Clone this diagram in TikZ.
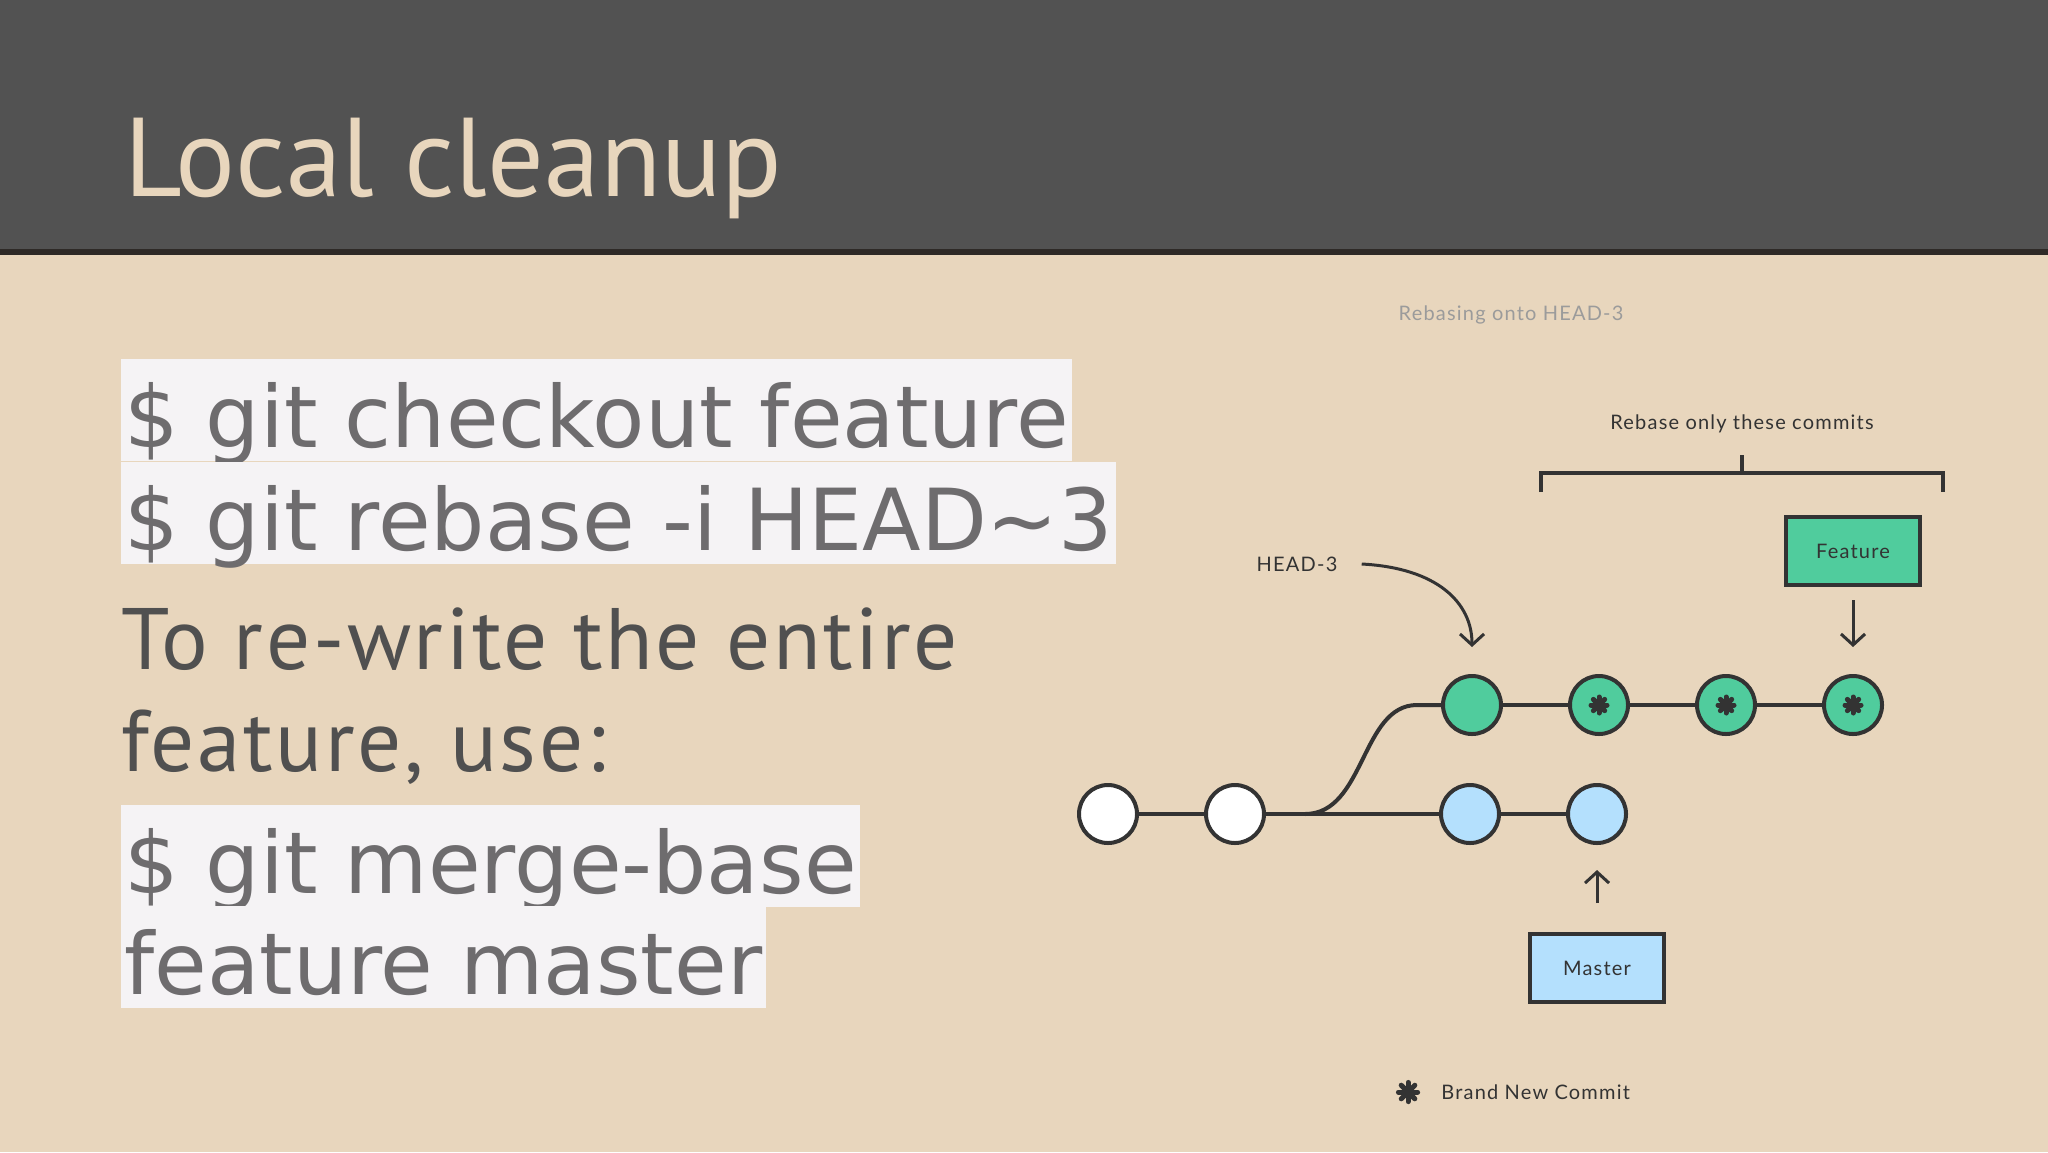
\documentclass[tikz,border=0pt]{standalone}
\usepackage{fontspec}
\setmainfont{PT Sans}
\newfontfamily\notefont[LetterSpace=3]{PT Sans}
\newfontfamily\cmdfont{DejaVu Sans}
\newfontfamily\diagfont[LetterSpace=6]{Lato}
\usetikzlibrary{positioning, arrows.meta}
\usepackage{xcolor}
\definecolor{slidebg}{RGB}{232,214,189}
\definecolor{headgray}{RGB}{82,82,82}
\definecolor{headline}{RGB}{46,42,39}
\definecolor{hilite}{RGB}{245,243,245}
\definecolor{cmdgray}{RGB}{110,108,110}
\definecolor{textgray}{RGB}{80,80,80}
\definecolor{captiongray}{RGB}{155,155,155}
\definecolor{featgreen}{RGB}{80,204,157}
\definecolor{mastblue}{RGB}{180,224,253}
\definecolor{inkdark}{RGB}{51,51,51}
\tikzstyle{cmdline}   = [anchor=base west, fill=hilite, text=cmdgray, inner xsep=1.5pt, inner ysep=0pt, text height=44pt, text depth=7pt, font=\cmdfont\fontsize{42.8}{51}\selectfont]
\tikzstyle{noteline}  = [anchor=base west, inner sep=0pt, text=textgray, font=\notefont\fontsize{43.6}{51}\selectfont]
\tikzstyle{commit}    = [circle, minimum size=29pt, inner sep=0pt, line width=2pt, draw=inkdark]
\tikzstyle{branchbox} = [rectangle, minimum width=67pt, minimum height=34pt, line width=2pt, draw=inkdark, text=inkdark, font=\diagfont\fontsize{10}{12}\selectfont]
\tikzstyle{diaglabel} = [inner sep=0pt, text=inkdark, font=\diagfont\fontsize{10}{12}\selectfont]
\tikzstyle{edge}      = [line width=2pt, draw=inkdark]
\tikzstyle{pointer}   = [line width=1.5pt, draw=inkdark, -{Straight Barb[length=5.5pt, width=12pt, line width=1.5pt]}]
\tikzset{fresh/.pic={\foreach \a in {0,45,90,135} \draw[line width=2.5pt, inkdark, line cap=round] (\a:-4pt) -- (\a:4pt);}}

\begin{document}
\begin{tikzpicture}[x=0.5pt, y=-0.5pt, node distance=63.5pt]
        % slide
        \fill[slidebg] (0,0) rectangle (2048,1152);
        \fill[headgray] (0,0) rectangle (2048,249);
        \fill[headline] (0,249) rectangle (2048,255);
        \node (title) [anchor=base west, inner sep=0pt, text=slidebg, font=\fontsize{56}{60}\selectfont] at (124,196) {Local cleanup};

        % commands and notes
        \node (cmdone)   [cmdline]  at (121,447) {\$ git checkout feature};
        \node (cmdtwo)   [cmdline]  at (121,550) {\$ git rebase -i HEAD\textasciitilde3};
        \node (noteone)  [noteline] at (121,669) {To re-write the entire};
        \node (notetwo)  [noteline] at (121,771) {feature, use:};
        \node (cmdthree) [cmdline]  at (121,893) {\$ git merge-base};
        \node (cmdfour)  [cmdline]  at (121,994) {feature master};

        % commit graph
        \node (c1) [commit, fill=white] at (1108,814) {};
        \node (c2) [commit, fill=white, right of=c1] {};
        \node (m1) [commit, fill=mastblue, right of=c2, xshift=54pt] {};
        \node (m2) [commit, fill=mastblue, right of=m1] {};
        \node (f1) [commit, fill=featgreen, above of=m1, node distance=54.5pt, xshift=1pt] {};
        \node (f2) [commit, fill=featgreen, right of=f1] {};
        \node (f3) [commit, fill=featgreen, right of=f2] {};
        \node (f4) [commit, fill=featgreen, right of=f3] {};
        \foreach \c in {f2,f3,f4} \pic at (\c) {fresh};

        \draw [edge] (c1) -- (c2);
        \draw [edge] (c2) -- (m1);
        \draw [edge] (m1) -- (m2);
        \draw [edge] (f1) -- (f2);
        \draw [edge] (f2) -- (f3);
        \draw [edge] (f3) -- (f4);
        \draw [edge] ([xshift=35pt]c2.center) .. controls +(30pt,0) and +(-28pt,0) .. ([xshift=-12pt]f1.west) -- (f1.west);

        % branch pointers
        \node (feature) [branchbox, fill=featgreen, above of=f4, node distance=77pt] {Feature};
        \node (master)  [branchbox, fill=mastblue, below of=m2, node distance=77pt] {Master};
        \draw [pointer, shorten <=6.5pt, shorten >=13.5pt] (feature.south) -- (f4.north);
        \draw [pointer, shorten <=14.5pt, shorten >=12.5pt] (master.north) -- (m2.south);

        \node (head) [diaglabel] at (1297,564) {HEAD-3};
        \draw [pointer] ([xshift=12pt]head.east) .. controls +(38pt,-2pt) and +(0,22pt) .. ([yshift=13.5pt]f1.north);

        % rebase range
        \node (caption)   [diaglabel, text=captiongray] at (1511,315) {Rebasing onto HEAD-3};
        \node (rebaselbl) [diaglabel] at (1742,424) {Rebase only these commits};
        \draw [edge] (1541,492) |- (1943,473) -- (1943,492);
        \draw [edge] (1742,473) -- (1742,455);

        % legend
        \pic [scale=1.2] at (1408,1092) {fresh};
        \node (legend) [diaglabel, anchor=west] at (1441,1092) {Brand New Commit};
\end{tikzpicture}
\end{document}
